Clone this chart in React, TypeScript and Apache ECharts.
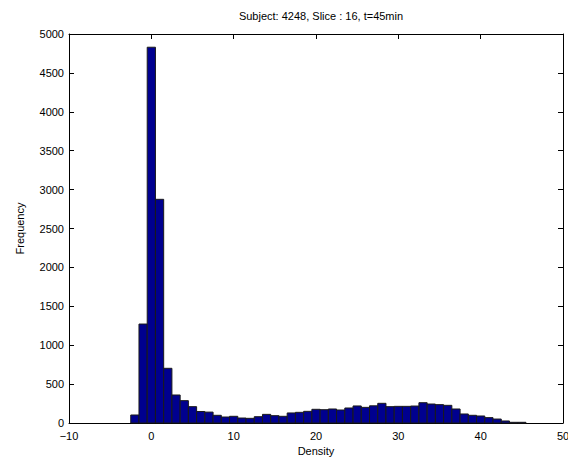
import React, { useEffect, useRef } from "react";
import * as echarts from "echarts";

const binCenters: number[] = [
  -2, -1, 0, 1, 2, 3, 4, 5, 6, 7, 8, 9, 10, 11, 12, 13, 14, 15, 16, 17, 18, 19, 20, 21, 22, 23,
  24, 25, 26, 27, 28, 29, 30, 31, 32, 33, 34, 35, 36, 37, 38, 39, 40, 41, 42, 43, 44, 45,
];
const frequencies: number[] = [
  103, 1272, 4830, 2875, 703, 360, 287, 210, 148, 140, 99, 77, 86, 64, 60, 81, 111, 94, 86, 129,
  137, 150, 176, 171, 180, 167, 193, 219, 201, 221, 253, 210, 214, 214, 218, 261, 244, 236, 227,
  180, 116, 99, 90, 69, 51, 26, 9, 9,
];
const binWidth = 1;
const xTicks = { min: -10, max: 50, interval: 10 };
const yTicks = { min: 0, max: 5000, interval: 500 };
const titleText = "Subject: 4248, Slice : 16, t=45min";
const xLabel = "Density";
const yLabel = "Frequency";

const FONT = "'Liberation Sans', Arial, Helvetica, sans-serif";

export default function App() {
  const ref = useRef<HTMLDivElement>(null);
  useEffect(() => {
    document.body.style.margin = "0";
    if (!ref.current) return;
    const chart = echarts.init(ref.current, undefined, { renderer: "svg", width: 568, height: 459 });
    const data = binCenters.map((c, i) => [c, frequencies[i]]);
    const axisLine = { show: true, onZero: false, lineStyle: { color: "#000", width: 1 } };
    const tick = { show: true, inside: true, length: 5, lineStyle: { color: "#000", width: 1 } };
    const label = {
      color: "#000",
      fontSize: 11,
      fontFamily: FONT,
      formatter: (v: number) => (v < 0 ? "\u2212" + Math.abs(v) : String(v)),
    };
    chart.setOption({
      animation: false,
      backgroundColor: "#fff",
      title: {
        text: titleText,
        left: 316,
        textAlign: "center",
        top: 5,
        textStyle: { fontSize: 11, fontWeight: "normal", color: "#000", fontFamily: FONT },
      },
      grid: { left: 69, right: 5, top: 34, bottom: 36, containLabel: false, outerBoundsMode: "none" },
      xAxis: [
        {
          type: "value",
          position: "bottom",
          min: xTicks.min,
          max: xTicks.max,
          interval: xTicks.interval,
          axisLine,
          axisTick: tick,
          splitLine: { show: false },
          axisLabel: { ...label, margin: 7, showMaxLabel: true, showMinLabel: true, hideOverlap: false },
          name: xLabel,
          nameLocation: "middle",
          nameGap: 22,
          nameTextStyle: { color: "#000", fontSize: 11, fontFamily: FONT },
        },
        {
          type: "value",
          position: "top",
          min: xTicks.min,
          max: xTicks.max,
          interval: xTicks.interval,
          axisLine,
          axisTick: tick,
          splitLine: { show: false },
          axisLabel: { show: false },
        },
      ],
      yAxis: [
        {
          type: "value",
          position: "left",
          min: yTicks.min,
          max: yTicks.max,
          interval: yTicks.interval,
          axisLine,
          axisTick: tick,
          splitLine: { show: false },
          axisLabel: { ...label, margin: 5, hideOverlap: false },
          name: yLabel,
          nameLocation: "middle",
          nameGap: 44,
          nameTextStyle: { color: "#000", fontSize: 11, fontFamily: FONT },
        },
        {
          type: "value",
          position: "right",
          min: yTicks.min,
          max: yTicks.max,
          interval: yTicks.interval,
          axisLine,
          axisTick: tick,
          splitLine: { show: false },
          axisLabel: { show: false },
        },
      ],
      series: [
        {
          type: "custom",
          xAxisIndex: 0,
          yAxisIndex: 0,
          encode: { x: 0, y: 1 },
          data,
          renderItem: (params: any, api: any) => {
            const x = api.value(0);
            const y = api.value(1);
            const p0 = api.coord([x - binWidth / 2, y]);
            const p1 = api.coord([x + binWidth / 2, 0]);
            return {
              type: "rect",
              shape: { x: p0[0], y: p0[1], width: p1[0] - p0[0], height: p1[1] - p0[1] },
              style: { fill: "#00008F", stroke: "#1a1a1a", lineWidth: 1 },
            };
          },
        },
      ],
    });
    return () => chart.dispose();
  }, []);
  return <div ref={ref} style={{ width: 568, height: 459 }} />;
}
